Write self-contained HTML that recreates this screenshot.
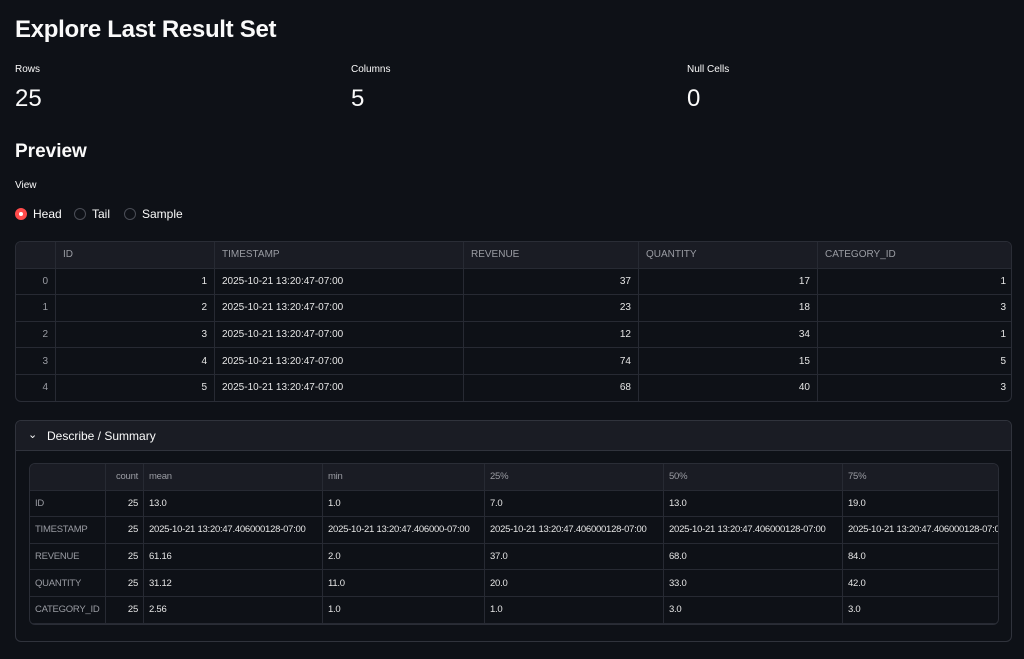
<!DOCTYPE html>
<html><head><meta charset="utf-8"><style>
*{box-sizing:border-box;margin:0;padding:0}
body{width:1024px;height:659px;background:#0e1117;color:#fafafa;font-family:"Liberation Sans",sans-serif;position:relative;overflow:hidden}
.a{position:absolute;white-space:nowrap}
table{border-collapse:collapse;table-layout:fixed;font-size:10px;color:#e6e6e6}
td{height:26.6px;border:1px solid #272a33;padding:0 7px;overflow:hidden;white-space:nowrap}
tr.h td{background:#1a1c24;color:#9a9ca3}
td.r{text-align:right}
td.i{color:#9a9ca3}
.t2 td{padding:0 5px;font-size:9.5px;letter-spacing:-0.25px}
.wrap{position:absolute;border:1px solid #2a2d36;border-radius:6px;overflow:hidden}
.radio{position:absolute;width:12px;height:12px;border-radius:50%;border:1px solid #4a4d56}
</style></head><body>
<div class="a" style="left:15px;top:16px;font-size:24px;font-weight:bold;letter-spacing:-0.3px">Explore Last Result Set</div>
<div class="a" style="left:15px;top:64px;font-size:10px">Rows</div>
<div class="a" style="left:351px;top:64px;font-size:10px">Columns</div>
<div class="a" style="left:687px;top:64px;font-size:10px">Null Cells</div>
<div class="a" style="left:15px;top:85px;font-size:24px">25</div>
<div class="a" style="left:351px;top:85px;font-size:24px">5</div>
<div class="a" style="left:687px;top:85px;font-size:24px">0</div>
<div class="a" style="left:15px;top:141px;font-size:19px;font-weight:bold">Preview</div>
<div class="a" style="left:15px;top:180px;font-size:10px">View</div>
<div class="radio" style="left:15px;top:208px;background:#ff4b4b;border-color:#ff4b4b"><div style="position:absolute;left:3px;top:3px;width:4px;height:4px;background:#fff;border-radius:50%"></div></div>
<div class="a" style="left:33px;top:207px;font-size:12px">Head</div>
<div class="radio" style="left:74px;top:208px"></div>
<div class="a" style="left:92px;top:207px;font-size:12px">Tail</div>
<div class="radio" style="left:124px;top:208px"></div>
<div class="a" style="left:142px;top:207px;font-size:12px">Sample</div>

<div class="wrap" style="left:15px;top:241px;width:997px;height:161px">
<table style="width:997px;margin:-1px">
<colgroup><col style="width:40px"><col style="width:159px"><col style="width:249px"><col style="width:175px"><col style="width:179px"><col style="width:196px"></colgroup>
<tr class="h"><td></td><td>ID</td><td>TIMESTAMP</td><td>REVENUE</td><td>QUANTITY</td><td>CATEGORY_ID</td></tr>
<tr><td class="r i">0</td><td class="r">1</td><td>2025-10-21 13:20:47-07:00</td><td class="r">37</td><td class="r">17</td><td class="r">1</td></tr>
<tr><td class="r i">1</td><td class="r">2</td><td>2025-10-21 13:20:47-07:00</td><td class="r">23</td><td class="r">18</td><td class="r">3</td></tr>
<tr><td class="r i">2</td><td class="r">3</td><td>2025-10-21 13:20:47-07:00</td><td class="r">12</td><td class="r">34</td><td class="r">1</td></tr>
<tr><td class="r i">3</td><td class="r">4</td><td>2025-10-21 13:20:47-07:00</td><td class="r">74</td><td class="r">15</td><td class="r">5</td></tr>
<tr><td class="r i">4</td><td class="r">5</td><td>2025-10-21 13:20:47-07:00</td><td class="r">68</td><td class="r">40</td><td class="r">3</td></tr>
</table></div>

<div class="wrap" style="left:15px;top:420px;width:997px;height:222px;border-color:#30333c">
<div style="height:30px;background:#1a1c24;border-bottom:1px solid #30333c;position:relative">
<div class="a" style="left:12px;top:7px;font-size:11px">&#8964;</div>
<div class="a" style="left:31px;top:8px;font-size:12px">Describe / Summary</div>
</div>
</div>
<div class="wrap" style="left:29px;top:463px;width:970px;height:162px">
<table class="t2" style="width:970px;margin:-1px">
<colgroup><col style="width:76px"><col style="width:38px"><col style="width:179px"><col style="width:162px"><col style="width:179px"><col style="width:179px"><col style="width:157px"></colgroup>
<tr class="h"><td></td><td class="r">count</td><td>mean</td><td>min</td><td>25%</td><td>50%</td><td>75%</td></tr>
<tr><td class="i">ID</td><td class="r">25</td><td>13.0</td><td>1.0</td><td>7.0</td><td>13.0</td><td>19.0</td></tr>
<tr><td class="i">TIMESTAMP</td><td class="r">25</td><td>2025-10-21 13:20:47.406000128-07:00</td><td>2025-10-21 13:20:47.406000-07:00</td><td>2025-10-21 13:20:47.406000128-07:00</td><td>2025-10-21 13:20:47.406000128-07:00</td><td>2025-10-21 13:20:47.406000128-07:00</td></tr>
<tr><td class="i">REVENUE</td><td class="r">25</td><td>61.16</td><td>2.0</td><td>37.0</td><td>68.0</td><td>84.0</td></tr>
<tr><td class="i">QUANTITY</td><td class="r">25</td><td>31.12</td><td>11.0</td><td>20.0</td><td>33.0</td><td>42.0</td></tr>
<tr><td class="i">CATEGORY_ID</td><td class="r">25</td><td>2.56</td><td>1.0</td><td>1.0</td><td>3.0</td><td>3.0</td></tr>
</table></div>
</body></html>
